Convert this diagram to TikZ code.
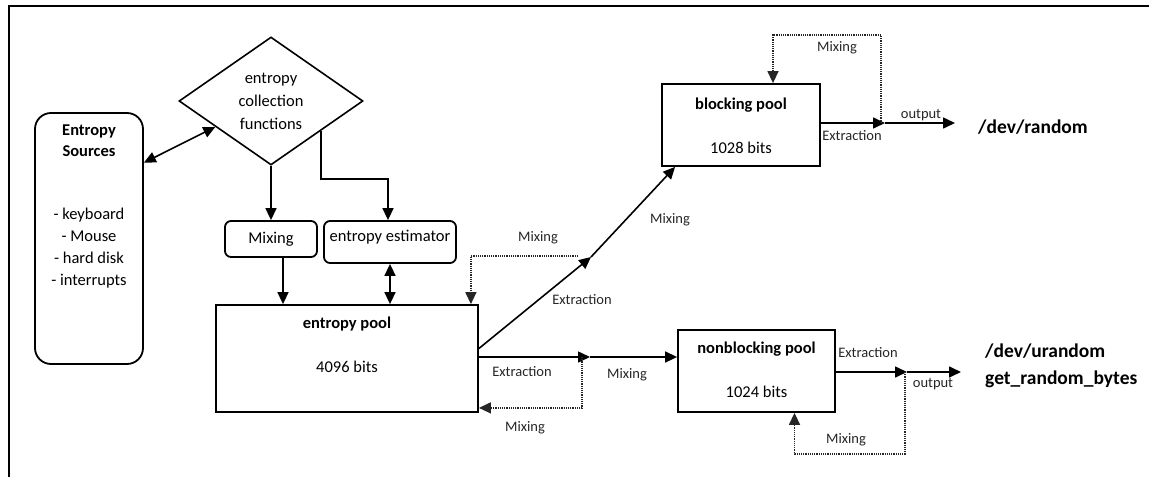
\documentclass[tikz,border=0pt]{standalone}
\usepackage{fontspec}
\setmainfont{Carlito}
\usetikzlibrary{arrows.meta, positioning, calc, shapes.geometric}

\tikzset{
  box/.style={draw, line width=1.8pt, inner sep=0pt, font=\fontsize{16.5}{19}\selectfont},
  rbox/.style={box, rounded corners=6pt},
  txt/.style={inner sep=0pt, align=center, font=\fontsize{16.5}{22}\selectfont},
  lbl/.style={inner sep=0pt, text=black!85, font=\fontsize{14.5}{17}\selectfont},
  dev/.style={inner sep=0pt, align=left, font=\fontsize{19.5}{27}\selectfont\bfseries},
  arr/.style={-{Triangle[length=12pt,width=11pt]}, line width=1.6pt},
  dbl/.style={{Triangle[length=12pt,width=11pt]}-{Triangle[length=12pt,width=11pt]}, line width=1.6pt},
  dotarr/.style={arr, line width=1.4pt, dash pattern=on 1.2pt off 1pt, black!85},
}

\begin{document}
\begin{tikzpicture}[x=1pt, y=-1pt]
  \useasboundingbox (0,0) rectangle (1149,477);
  % Frame
  \draw[line width=2.6pt] (9,477) -- (9,6) -- (1149,6);

  % Sources
  \node[box, rounded corners=16pt, minimum width=108pt, minimum height=251pt] (src) at (89,238.5) {};
  \node[txt, font=\fontsize{16.5}{21}\selectfont\bfseries] (srctitle) at (89,140.5) {Entropy\\Sources};
  \node[txt] (srclist) at (89,248) {- keyboard\\- Mouse\\- hard disk\\- interrupts};

  % Collection
  \node[draw, diamond, line width=1.6pt, inner sep=0pt, minimum width=184pt, minimum height=128pt,
        align=center, font=\fontsize{16.5}{23}\selectfont] (dia) at (271,101)
        {entropy\\collection\\functions};
  \node[rbox, minimum width=92pt, minimum height=36pt] (mix) at (271,239) {Mixing};
  \node[rbox, minimum width=132pt, minimum height=42pt, text depth=12pt] (est) at (390,242) {entropy estimator};

  % Pools
  \node[box, minimum width=262pt, minimum height=107pt] (pool) at (347,358.5) {};
  \node[txt, font=\fontsize{16.5}{19}\selectfont\bfseries] (pooltitle) at (347,324) {entropy pool};
  \node[txt] (poolsize) at (347,367) {4096 bits};

  \node[box, minimum width=158pt, minimum height=82pt] (bpool) at (741,125) {};
  \node[txt, font=\fontsize{16.5}{19}\selectfont\bfseries] (btitle) at (741,105) {blocking pool};
  \node[txt] (bsize) at (741,148) {1028 bits};

  \node[box, minimum width=157pt, minimum height=82pt] (npool) at (756.5,371) {};
  \node[txt, font=\fontsize{16.5}{19}\selectfont\bfseries] (ntitle) at (756.5,349) {nonblocking pool};
  \node[txt] (nsize) at (756.5,392) {1024 bits};

  % Devices
  \node[dev] (rnd) at (1033,127) {/dev/random};
  \node[dev, anchor=west] (urnd) at (985,366) {/dev/urandom\\get\_random\_bytes};

  % Helper points
  \coordinate (fork1) at (591,257);
  \coordinate (fork2) at (590,357);
  \coordinate (out1) at (885,123);
  \coordinate (end1) at (955,123);
  \coordinate (out2) at (907,372);
  \coordinate (end2) at (961,372);
  \coordinate (mixout) at ($(mix.south)+(12,0)$);

  % Top part
  \draw[dbl] ($(src.north east)!.2!(src.south east)$) -- ($(dia.west)!.4!(dia.south)$);
  \draw[arr] (dia.south) -- (mix.north);
  \draw[arr] ($(dia.south)!.54!(dia.east)$) |- ($(est.north)+(-2,-41)$) -- ($(est.north)+(-2,0)$);
  \draw[arr] (mixout) -- (mixout |- pool.north);
  \draw[dbl] (est.south) -- (est.south |- pool.north);

  % To blocking pool
  \draw[arr] ($(pool.east)+(0,-10)$) -- (fork1);
  \draw[arr] (fork1) -- ($(bpool.south west)+(14,0)$);
  \draw[dotarr] ($(fork1)+(-13,-1)$) -| ($(pool.north east)+(-8,0)$);
  \node[lbl] (l1) at (538,238) {Mixing};
  \node[lbl] (l2) at (582,300) {Extraction};
  \node[lbl] (l3) at (670,220) {Mixing};

  % To nonblocking pool
  \draw[arr] (pool.east |- fork2) -- (fork2);
  \draw[arr] (fork2) -- (fork2 -| npool.west);
  \draw[dotarr] ($(fork2)+(-8,0)$) |- ($(pool.south east)+(0,-5)$);
  \node[lbl] (l4) at (522,372) {Extraction};
  \node[lbl] (l5) at (627,375) {Mixing};
  \node[lbl] (l6) at (525,428) {Mixing};

  % Blocking output
  \draw[arr] (bpool.east |- out1) -- (out1);
  \draw[arr] (out1) -- (end1);
  \draw[dotarr] ($(out1)+(-4,0)$) |- ($(bpool.north)+(32,-48)$) -- ($(bpool.north)+(32,0)$);
  \node[lbl] (l7) at (837,48) {Mixing};
  \node[lbl] (l8) at (852,136) {Extraction};
  \node[lbl] (l9) at (921,115) {output};

  % Nonblocking output
  \draw[arr] (npool.east |- out2) -- (out2);
  \draw[arr] (out2) -- (end2);
  \draw[dotarr] ($(out2)+(-2,0)$) |- ($(npool.south)+(38,41)$) -- ($(npool.south)+(38,0)$);
  \node[lbl] (l10) at (868,353) {Extraction};
  \node[lbl] (l11) at (933,384) {output};
  \node[lbl] (l12) at (846,440) {Mixing};
\end{tikzpicture}
\end{document}
